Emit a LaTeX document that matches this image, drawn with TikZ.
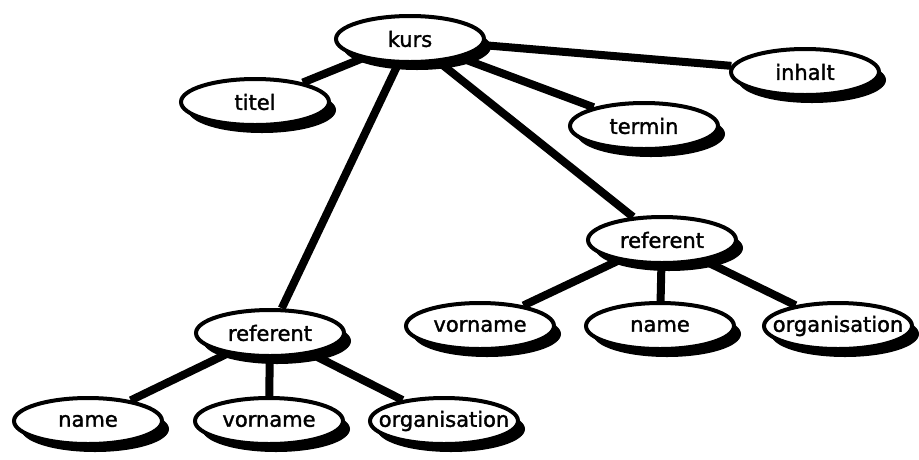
\documentclass[tikz,border=0pt]{standalone}
\usepackage{fontspec}
\newfontfamily\labelfont{DejaVu Sans}[FakeBold=1.6]
\usetikzlibrary{shapes.geometric,shadows,backgrounds}
% label set without widening its ellipse
\newcommand{\attrtext}[1]{\makebox[0pt]{#1}}
\begin{document}
\begin{tikzpicture}[x=1pt,y=-1pt,
  attr/.style={ellipse, draw=black, line width=4pt, fill=white,
    minimum width=148pt, minimum height=46pt, inner sep=0pt,
    font=\labelfont\fontsize{21}{23}\selectfont,
    drop shadow={shadow xshift=7pt, shadow yshift=-8pt, fill=black, opacity=1}},
  link/.style={line width=8pt, draw=black}]
\useasboundingbox (0,0) rectangle (919,459);
\node[attr] (kurs) at (410,39) {\attrtext{kurs}};
\node[attr] (titel) at (255,102) {\attrtext{titel}};
\node[attr] (inhalt) at (805,72) {\attrtext{inhalt}};
\node[attr] (termin) at (644,126) {\attrtext{termin}};
\node[attr] (refR) at (662,240) {\attrtext{referent}};
\node[attr] (vornR) at (480,326) {\attrtext{vorname}};
\node[attr] (nameR) at (660,326) {\attrtext{name}};
\node[attr] (orgR) at (838,326) {\attrtext{organisation}};
\node[attr] (refL) at (270,333) {\attrtext{referent}};
\node[attr] (nameL) at (88,421) {\attrtext{name}};
\node[attr] (vornL) at (269,421) {\attrtext{vorname}};
\node[attr] (orgL) at (444,421) {\attrtext{organisation}};
\begin{pgfonlayer}{background}
\draw[link] (kurs) -- (titel);
\draw[link] (kurs) -- (inhalt);
\draw[link] (kurs) -- (termin);
\draw[link] (kurs) -- (refR);
\draw[link] (kurs) -- (refL);
\draw[link] (refR) -- (vornR);
\draw[link] (refR) -- (nameR);
\draw[link] (refR) -- (orgR);
\draw[link] (refL) -- (nameL);
\draw[link] (refL) -- (vornL);
\draw[link] (refL) -- (orgL);
\end{pgfonlayer}
\end{tikzpicture}
\end{document}
